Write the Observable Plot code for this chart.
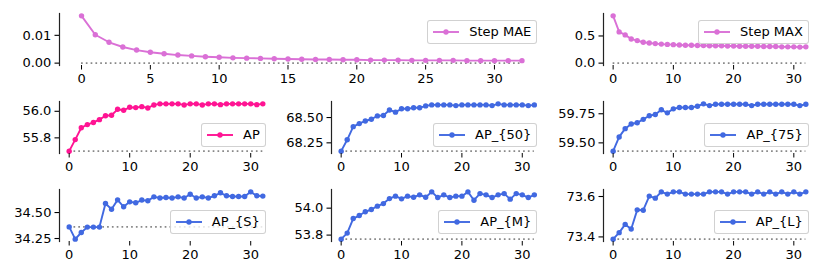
<!DOCTYPE html>
<html>
<head>
<meta charset="utf-8">
<script src="https://cdn.jsdelivr.net/npm/d3@7"></script>
<script src="https://cdn.jsdelivr.net/npm/@observablehq/plot@0.6"></script>
<style>
  body { margin: 0; background: #fff; font-family: "DejaVu Sans", sans-serif; }
  #chart { position: relative; width: 830px; height: 277px; overflow: hidden; background: #fff; }
  .panel { position: absolute; }
  .legend {
    position: absolute; display: flex; align-items: center;
    background: rgba(255,255,255,0.8); border: 1px solid rgba(204,204,204,0.9);
    border-radius: 3px; padding: 4px 5px; font-size: 13px; line-height: 14px;
    color: #000; white-space: nowrap; box-sizing: border-box;
  }
  .legend svg { margin-right: 10px; overflow: visible; }
</style>
</head>
<body>
<div id="chart"></div>
<script>
// ---------- data ----------
const steps = [0,1,2,3,4,5,6,7,8,9,10,11,12,13,14,15,16,17,18,19,20,21,22,23,24,25,26,27,28,29,30,31,32];

const stepMAE = [0.0170,0.0102,0.0075,0.0058,0.0047,0.0039,0.0034,0.0029,0.0026,0.0023,0.0021,0.0019,0.0018,0.0017,0.0016,0.0015,0.0014,0.0013,0.0013,0.0012,0.0012,0.0011,0.0011,0.0011,0.0010,0.0010,0.0010,0.0010,0.0009,0.0009,0.0009,0.0009,0.0009];
const stepMAX = [0.87,0.575,0.52,0.445,0.415,0.385,0.37,0.36,0.35,0.345,0.34,0.335,0.33,0.33,0.325,0.325,0.32,0.32,0.32,0.315,0.315,0.31,0.31,0.31,0.31,0.305,0.305,0.305,0.30,0.30,0.30,0.295,0.30];
const AP = [55.700,55.787,55.876,55.900,55.916,55.937,55.967,55.970,56.015,56.008,56.030,56.028,56.035,56.025,56.048,56.056,56.056,56.056,56.056,56.048,56.056,56.056,56.048,56.056,56.056,56.050,56.056,56.056,56.056,56.056,56.056,56.050,56.056];
const AP50 = [68.168,68.28,68.41,68.44,68.466,68.483,68.516,68.52,68.575,68.553,68.586,68.586,68.596,68.596,68.615,68.625,68.625,68.625,68.625,68.618,68.625,68.625,68.625,68.625,68.625,68.618,68.635,68.625,68.625,68.625,68.625,68.618,68.625];
const AP75 = [59.429,59.551,59.622,59.662,59.673,59.702,59.733,59.744,59.784,59.758,59.792,59.804,59.804,59.804,59.815,59.835,59.82,59.832,59.832,59.832,59.832,59.832,59.832,59.82,59.832,59.832,59.832,59.832,59.832,59.832,59.832,59.82,59.832];
const APS = [34.362,34.244,34.308,34.36,34.36,34.36,34.587,34.532,34.622,34.555,34.603,34.594,34.62,34.613,34.651,34.64,34.645,34.64,34.651,34.64,34.676,34.64,34.651,34.64,34.661,34.69,34.661,34.654,34.654,34.654,34.699,34.661,34.658];
const APM = [53.770,53.815,53.923,53.945,53.973,53.990,54.015,54.034,54.071,54.089,54.069,54.089,54.081,54.099,54.081,54.121,54.079,54.099,54.079,54.089,54.089,54.121,54.059,54.108,54.099,54.079,54.099,54.108,54.067,54.108,54.099,54.079,54.099];
const APL = [73.389,73.421,73.462,73.439,73.534,73.532,73.602,73.592,73.623,73.612,73.623,73.623,73.612,73.612,73.612,73.612,73.623,73.623,73.623,73.612,73.623,73.623,73.623,73.612,73.623,73.612,73.623,73.612,73.623,73.612,73.623,73.612,73.623];

const seriesNames = ["Step MAE","Step MAX","AP","AP_{50}","AP_{75}","AP_{S}","AP_{M}","AP_{L}"];
const xTicksWide = [0,5,10,15,20,25,30];
const xTicks = [0,10,20,30];
const yTicksMAE = [0.00,0.01];
const yTicksMAX = [0.0,0.5];
const yTicksAP = [55.8,56.0];
const yTicksAP50 = [68.25,68.50];
const yTicksAP75 = [59.50,59.75];
const yTicksAPS = [34.25,34.50];
const yTicksAPM = [53.8,54.0];
const yTicksAPL = [73.4,73.6];

// ---------- layout ----------
const ORCHID = "#DA70D6", PINK = "#FF1493", BLUE = "#4169E1";
const cols = [[59, 272], [331, 543.5], [603, 815]];
const rows = [[13.3, 65.3], [101, 153], [188.7, 240.7]];

const panels = [
  {name: seriesNames[0], values: stepMAE, color: ORCHID, base: 0, yTicks: yTicksMAE, fmt: ".2f", xt: xTicksWide, x: [cols[0][0], cols[1][1]], y: rows[0], loc: "upper"},
  {name: seriesNames[1], values: stepMAX, color: ORCHID, base: 0, yTicks: yTicksMAX, fmt: ".1f", xt: xTicks, x: cols[2], y: rows[0], loc: "upper"},
  {name: seriesNames[2], values: AP, color: PINK, base: AP[0], yTicks: yTicksAP, fmt: ".1f", xt: xTicks, x: cols[0], y: rows[1], loc: "lower"},
  {name: seriesNames[3], values: AP50, color: BLUE, base: AP50[0], yTicks: yTicksAP50, fmt: ".2f", xt: xTicks, x: cols[1], y: rows[1], loc: "lower"},
  {name: seriesNames[4], values: AP75, color: BLUE, base: AP75[0], yTicks: yTicksAP75, fmt: ".2f", xt: xTicks, x: cols[2], y: rows[1], loc: "lower"},
  {name: seriesNames[5], values: APS, color: BLUE, base: APS[0], yTicks: yTicksAPS, fmt: ".2f", xt: xTicks, x: cols[0], y: rows[2], loc: "lower"},
  {name: seriesNames[6], values: APM, color: BLUE, base: APM[0], yTicks: yTicksAPM, fmt: ".1f", xt: xTicks, x: cols[1], y: rows[2], loc: "lower"},
  {name: seriesNames[7], values: APL, color: BLUE, base: APL[0], yTicks: yTicksAPL, fmt: ".1f", xt: xTicks, x: cols[2], y: rows[2], loc: "lower"}
];

const ML = 60, MR = 12, MT = 12, MB = 28;
const chart = document.getElementById("chart");
const x0 = steps[0], x1 = steps[steps.length - 1];
const xPad = (x1 - x0) * 0.05;

for (const p of panels) {
  const data = steps.map((s, i) => ({step: s, value: p.values[i]}));
  const [lo, hi] = d3.extent([...p.values, p.base]);
  const yPad = (hi - lo) * 0.05;
  const fw = p.x[1] - p.x[0], fh = p.y[1] - p.y[0];
  const plot = Plot.plot({
    width: fw + ML + MR,
    height: fh + MT + MB,
    marginLeft: ML, marginRight: MR, marginTop: MT, marginBottom: MB,
    style: {fontFamily: "DejaVu Sans, sans-serif", fontSize: "13px", background: "transparent", overflow: "visible", color: "#000"},
    x: {domain: [x0 - xPad, x1 + xPad]},
    y: {domain: [lo - yPad, hi + yPad]},
    marks: [
      Plot.ruleY([p.base], {x1: x0, x2: x1, stroke: "#888", strokeWidth: 1.7, strokeDasharray: "1.7,3.1"}),
      Plot.line(data, {x: "step", y: "value", stroke: p.color, strokeWidth: 1.9}),
      Plot.dot(data, {x: "step", y: "value", r: 2.7, fill: p.color, stroke: "none"}),
      Plot.frame({anchor: "left", stroke: "#222", strokeWidth: 1.2}),
      Plot.axisX({ticks: p.xt, tickSize: 4.5, tickPadding: 3.6, label: null, tickFormat: d3.format("d"), strokeWidth: 1}),
      Plot.axisY({ticks: p.yTicks, tickSize: 4.5, tickPadding: 3.6, label: null, tickFormat: d3.format(p.fmt), strokeWidth: 1.1})
    ]
  });
  plot.classList.add("panel");
  plot.style.left = (p.x[0] - ML) + "px";
  plot.style.top = (p.y[0] - MT) + "px";
  chart.appendChild(plot);

  // legend (matplotlib-style box)
  const lg = document.createElement("div");
  lg.className = "legend";
  lg.style.right = (830 - p.x[1] + 6.2) + "px";
  if (p.loc === "upper") lg.style.top = (p.y[0] + 6.2) + "px";
  else lg.style.bottom = (277 - p.y[1] + 6.5) + "px";
  const ns = "http://www.w3.org/2000/svg";
  const hs = document.createElementNS(ns, "svg");
  hs.setAttribute("width", 26); hs.setAttribute("height", 14);
  const ln = document.createElementNS(ns, "line");
  ln.setAttribute("x1", 0); ln.setAttribute("x2", 26); ln.setAttribute("y1", 7); ln.setAttribute("y2", 7);
  ln.setAttribute("stroke", p.color); ln.setAttribute("stroke-width", 1.9);
  const c = document.createElementNS(ns, "circle");
  c.setAttribute("cx", 13); c.setAttribute("cy", 7); c.setAttribute("r", 2.7); c.setAttribute("fill", p.color);
  hs.appendChild(ln); hs.appendChild(c);
  lg.appendChild(hs);
  const t = document.createElement("span");
  t.textContent = p.name;
  lg.appendChild(t);
  chart.appendChild(lg);
}
</script>
</body>
</html>
